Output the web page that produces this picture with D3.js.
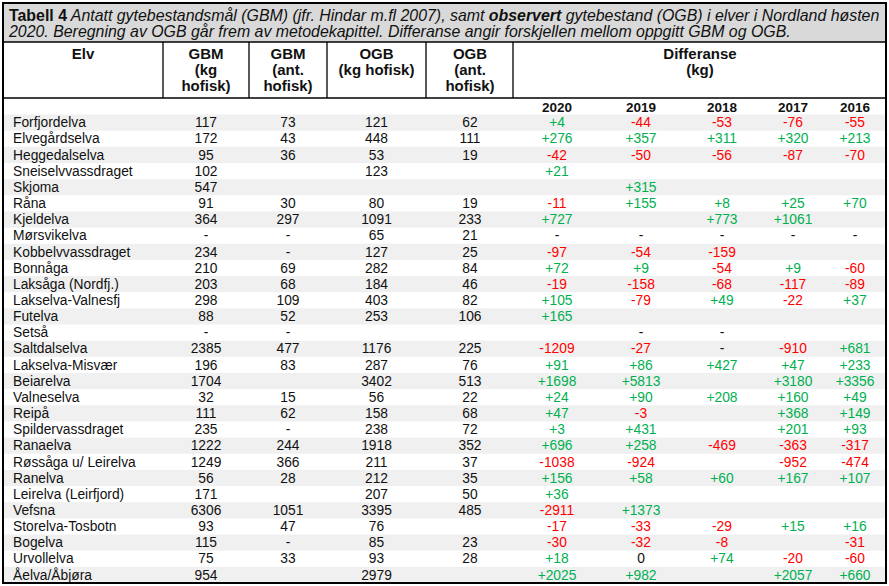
<!doctype html><html><head><style>body{margin:0;background:#fff}</style></head><body>
<script src="https://d3js.org/d3.v7.min.js"></script>
<script>
// Table data
const rivers  = ["Forfjordelva","Elvegårdselva","Heggedalselva","Sneiselvvassdraget","Skjoma","Råna","Kjeldelva","Mørsvikelva","Kobbelvvassdraget","Bonnåga","Laksåga (Nordfj.)","Lakselva-Valnesfj","Futelva","Setså","Saltdalselva","Lakselva-Misvær","Beiarelva","Valneselva","Reipå","Spildervassdraget","Ranaelva","Røssåga u/ Leirelva","Ranelva","Leirelva (Leirfjord)","Vefsna","Storelva-Tosbotn","Bogelva","Urvollelva","Åelva/Åbjøra"];
const gbmKg   = [117,172,95,102,547,91,364,"-",234,210,203,298,88,"-",2385,196,1704,32,111,235,1222,1249,56,171,6306,93,115,75,954];
const gbmAnt  = [73,43,36,null,null,30,297,"-","-",69,68,109,52,"-",477,83,null,15,62,"-",244,366,28,null,1051,47,"-",33,null];
const ogbKg   = [121,448,53,123,null,80,1091,65,127,282,184,403,253,null,1176,287,3402,56,158,238,1918,211,212,207,3395,76,85,93,2979];
const ogbAnt  = [62,111,19,null,null,19,233,21,25,84,46,82,106,null,225,76,513,22,68,72,352,37,35,50,485,null,23,28,null];
const years   = ["2020","2019","2018","2017","2016"];
const diff2020 = [4,276,-42,21,null,-11,727,"-",-97,72,-19,105,165,null,-1209,91,1698,24,47,3,696,-1038,156,36,-2911,-17,-30,18,2025];
const diff2019 = [-44,357,-50,null,315,155,null,"-",-54,9,-158,-79,null,"-",-27,86,5813,90,-3,431,258,-924,58,null,1373,-33,-32,0,982];
const diff2018 = [-53,311,-56,null,null,8,773,"-",-159,-54,-68,49,null,"-","-",427,null,208,null,null,-469,null,60,null,null,-29,-8,74,null];
const diff2017 = [-76,320,-87,null,null,25,1061,"-",null,9,-117,-22,null,null,-910,47,3180,160,368,201,-363,-952,167,null,null,15,null,-20,2057];
const diff2016 = [-55,213,-70,null,null,70,null,"-",null,-60,-89,37,null,null,681,233,3356,49,149,93,-317,-474,107,null,null,16,-31,-60,660];
const diffs = [diff2020,diff2019,diff2018,diff2017,diff2016];

const W = 889, H = 586;
const L = 3, R = 886, T = 3, titleB = 42, headB = 98, rowsTop = 114.5, B = 583;
const green = "#00b050", red = "#ff0000", ink = "#111";

const svg = d3.select("body").append("svg")
  .attr("width", W).attr("height", H)
  .style("font-family", "'Liberation Sans', Arial, sans-serif")
  .style("white-space", "pre");

// scales
const y = d3.scaleBand().domain(d3.range(rivers.length)).range([rowsTop, B]);
const cols = ["elv","gbmKg","gbmAnt","ogbKg","ogbAnt"].concat(years);
const x = d3.scaleOrdinal().domain(cols).range([13, 206, 288, 376.5, 470, 557, 641, 722, 793, 855]);

// title box
svg.append("rect").attr("x", L).attr("y", T).attr("width", R-L).attr("height", titleB-T).attr("fill", "#d9d9d9");

// zebra rows
svg.append("g").selectAll("rect")
  .data(rivers.map((r,i) => i).filter(i => i % 2 === 0))
  .join("rect")
  .attr("x", L).attr("width", R-L)
  .attr("y", d => y(d)).attr("height", y.bandwidth())
  .attr("fill", "#f0f0f0");

// title text
const t1 = svg.append("text").attr("x", 9).attr("y", 21).attr("font-size", 15.9).attr("fill", ink);
t1.append("tspan").attr("font-weight", "bold").text("Tabell 4");
t1.append("tspan").attr("font-style", "italic").text(" Antatt gytebestandsmål (GBM) (jfr. Hindar m.fl 2007), samt ");
t1.append("tspan").attr("font-style", "italic").attr("font-weight", "bold").text("observert");
t1.append("tspan").attr("font-style", "italic").text(" gytebestand (OGB) i elver i Nordland høsten");
svg.append("text").attr("x", 9).attr("y", 37).attr("font-size", 15.9).attr("font-style", "italic").attr("fill", ink)
  .text("2020. Beregning av OGB går frem av metodekapittel. Differanse angir forskjellen mellom oppgitt GBM og OGB.");

// header
const heads = [
  {cx: 83,    lines: ["Elv"]},
  {cx: 206,   lines: ["GBM","(kg","hofisk)"]},
  {cx: 288,   lines: ["GBM","(ant.","hofisk)"]},
  {cx: 376.5, lines: ["OGB","(kg hofisk)"]},
  {cx: 470,   lines: ["OGB","(ant.","hofisk)"]},
  {cx: 700,   lines: ["Differanse","(kg)"]}
];
const hg = svg.append("g").attr("font-weight", "bold").attr("font-size", 15).attr("text-anchor", "middle").attr("fill", ink);
heads.forEach(h => {
  h.lines.forEach((ln, k) => hg.append("text").attr("x", h.cx).attr("y", 58.5 + k*16).text(ln));
});
svg.append("g").attr("font-weight", "bold").attr("font-size", 13.5).attr("text-anchor", "middle").attr("fill", ink)
  .selectAll("text").data(years).join("text")
  .attr("x", d => x(d)).attr("y", 111.5).text(d => d);

// lines
const lg = svg.append("g").attr("stroke", "#000");
[163, 249, 327, 426, 513].forEach(v => lg.append("line").attr("x1", v).attr("x2", v).attr("y1", titleB).attr("y2", headB).attr("stroke-width", 1.3));
lg.append("line").attr("x1", L).attr("x2", R).attr("y1", titleB).attr("y2", titleB).attr("stroke-width", 1.3);
lg.append("line").attr("x1", L).attr("x2", R).attr("y1", headB).attr("y2", headB).attr("stroke-width", 1.5);
lg.append("rect").attr("x", L).attr("y", T).attr("width", R-L).attr("height", B-T).attr("fill", "none").attr("stroke-width", 2);

// body cells
const fmt = v => v === null ? "" : String(v);
const body = svg.append("g").attr("font-size", 13.8);
body.selectAll("text.elv").data(rivers).join("text").attr("class", "elv")
  .attr("x", x("elv")).attr("y", (d,i) => y(i) + 12.8).attr("fill", ink).text(d => d);

[["gbmKg", gbmKg], ["gbmAnt", gbmAnt], ["ogbKg", ogbKg], ["ogbAnt", ogbAnt]].forEach(([k, arr]) => {
  body.append("g").attr("text-anchor", "middle").selectAll("text").data(arr).join("text")
    .attr("x", x(k)).attr("y", (d,i) => y(i) + 12.8).attr("fill", ink).text(fmt);
});

const dFmt = v => v === null ? "" : v === "-" ? "-" : v > 0 ? "+" + v : String(v);
const dCol = v => (v === "-" || v === 0) ? ink : v > 0 ? green : red;
diffs.forEach((arr, j) => {
  body.append("g").attr("text-anchor", "middle").selectAll("text").data(arr).join("text")
    .attr("x", x(years[j])).attr("y", (d,i) => y(i) + 12.8)
    .attr("fill", d => d === null ? ink : dCol(d)).text(dFmt);
});
</script></body></html>
